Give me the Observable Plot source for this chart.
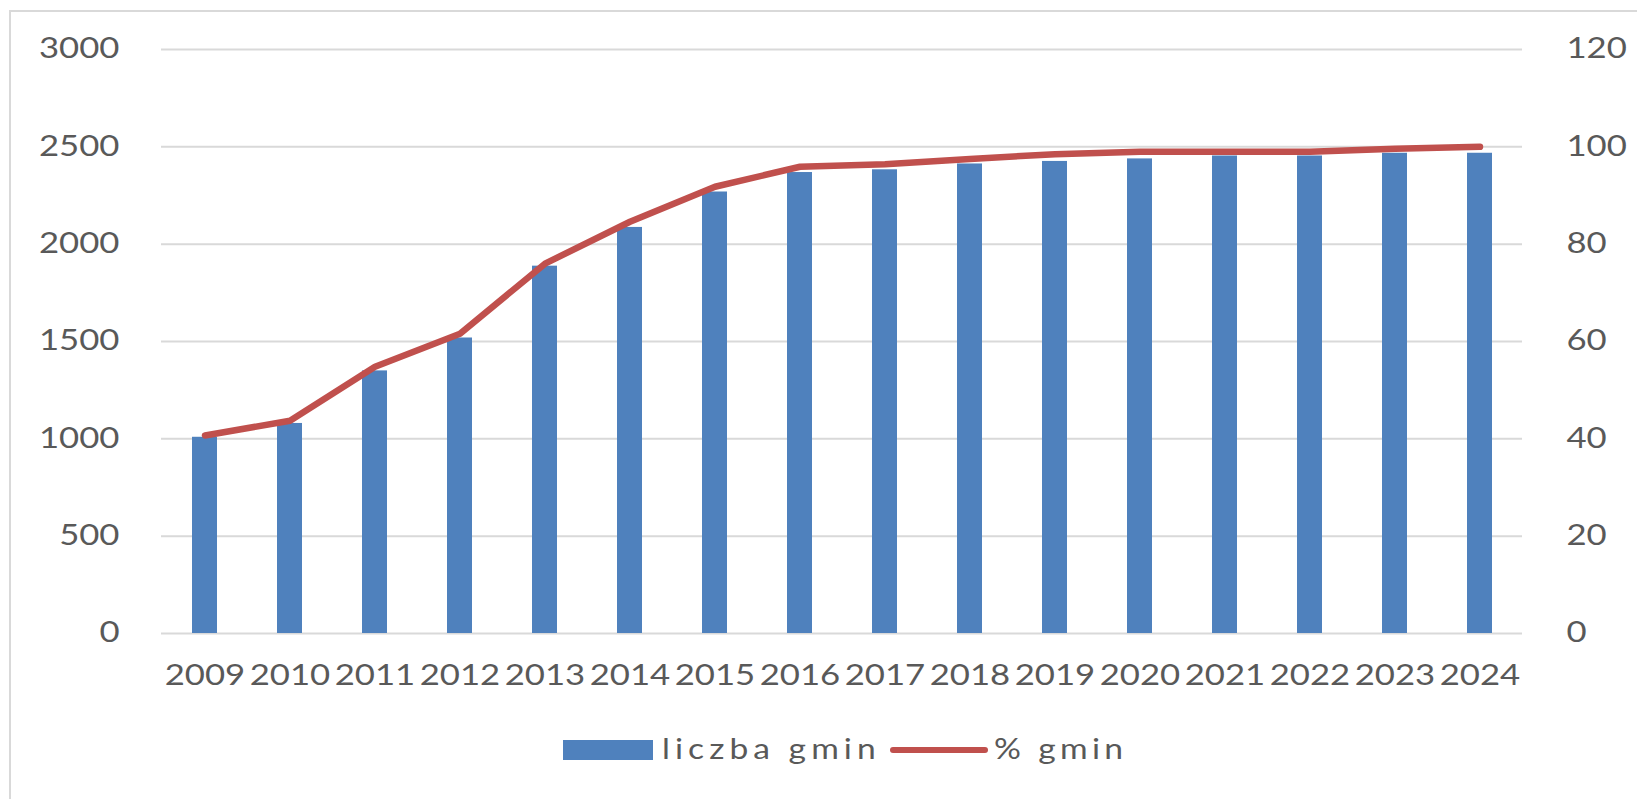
<!DOCTYPE html>
<html>
<head>
<meta charset="utf-8">
<script src="https://cdn.jsdelivr.net/npm/d3@7"></script>
<script src="https://cdn.jsdelivr.net/npm/@observablehq/plot@0.6"></script>
<style>
  body { margin: 0; background: #ffffff; }
  #wrap { position: relative; width: 1637px; height: 799px; overflow: hidden; background: #fff; }
  #chart { position: absolute; left: 0; top: 0; }
  #frame { position: absolute; left: 9px; top: 10px; right: -10px; bottom: -10px;
           border-top: 2px solid #d9d9d9; border-left: 2px solid #d9d9d9; pointer-events: none; }
  .leg { position: absolute; font-family: Lato, "Open Sans", sans-serif; font-size: 28px; color: #595959;
         letter-spacing: 4.2px; white-space: nowrap; line-height: 1; transform: scaleX(1.2); transform-origin: 0 0; }
</style>
</head>
<body>
<div id="wrap">
  <div id="chart"></div>
  <div id="legend"></div>
  <div id="frame"></div>
</div>
<script>
// ---- data ----
const years = ["2009","2010","2011","2012","2013","2014","2015","2016","2017","2018","2019","2020","2021","2022","2023","2024"];
const liczbaGmin = [1008, 1079, 1349, 1518, 1887, 2086, 2268, 2368, 2382, 2412, 2425, 2438, 2453, 2453, 2467, 2467];
const procentGmin = [40.7, 43.7, 54.8, 61.6, 76.0, 84.6, 91.8, 95.9, 96.4, 97.5, 98.5, 99.0, 99.0, 99.0, 99.6, 100.0];
const leftTicks = [0, 500, 1000, 1500, 2000, 2500, 3000];
const rightTicks = [0, 20, 40, 60, 80, 100, 120];
const seriesNames = ["liczba gmin", "% gmin"];
const barColor = "#4f81bd";
const lineColor = "#c0504d";

const ratio = leftTicks[leftTicks.length - 1] / rightTicks[rightTicks.length - 1];
const data = years.map((y, i) => ({ year: y, count: liczbaGmin[i], pct: procentGmin[i] }));

const chart = Plot.plot({
  width: 1637,
  height: 720,
  marginTop: 49,
  marginBottom: 87,
  marginLeft: 161,
  marginRight: 115,
  style: { fontFamily: "Lato, 'Open Sans', sans-serif", fontSize: "28px", color: "#595959", background: "transparent" },
  x: { type: "band", domain: years, paddingInner: 0.71, paddingOuter: 0.355 },
  y: { domain: [0, 3000] },
  marks: [
    Plot.gridY(leftTicks, { stroke: "#d9d9d9", strokeOpacity: 1, strokeWidth: 2 }),
    Plot.barY(data, { x: "year", y: "count", fill: barColor }),
    Plot.line(data, { x: "year", y: d => d.pct * ratio, stroke: lineColor, strokeWidth: 6.5, strokeLinecap: "round", strokeLinejoin: "round" }),
    Plot.axisX({ tickSize: 0, tickPadding: 32, label: null, fill: "#595959" }),
    Plot.axisY(leftTicks, { anchor: "left", tickSize: 0, tickPadding: 42, label: null, tickFormat: d => String(d), fill: "#595959" }),
    Plot.axisY(rightTicks.map(t => t * ratio), { anchor: "right", tickSize: 0, tickPadding: 44, label: null, tickFormat: d => String(d / ratio), fill: "#595959" })
  ]
});
document.getElementById("chart").appendChild(chart);

// widen the glyphs horizontally around each label's anchor point (the reference text is stretched)
chart.querySelectorAll("text").forEach(t => {
  const x = parseFloat(t.getAttribute("x")) || 0;
  const tr = t.getAttribute("transform") || "";
  t.setAttribute("transform", `${tr} translate(${x},0) scale(1.24,1) translate(${-x},0)`.trim());
});

// ---- legend (below the SVG) ----
const legend = document.getElementById("legend");
legend.innerHTML = `
  <div style="position:absolute;left:563px;top:740px;width:90px;height:20px;background:${barColor}"></div>
  <div class="leg" style="left:662px;top:734px;">${seriesNames[0]}</div>
  <div style="position:absolute;left:890px;top:747px;width:98px;height:6px;border-radius:3px;background:${lineColor}"></div>
  <div class="leg" style="left:994px;top:734px;letter-spacing:3.6px;">${seriesNames[1]}</div>
`;
</script>
</body>
</html>
